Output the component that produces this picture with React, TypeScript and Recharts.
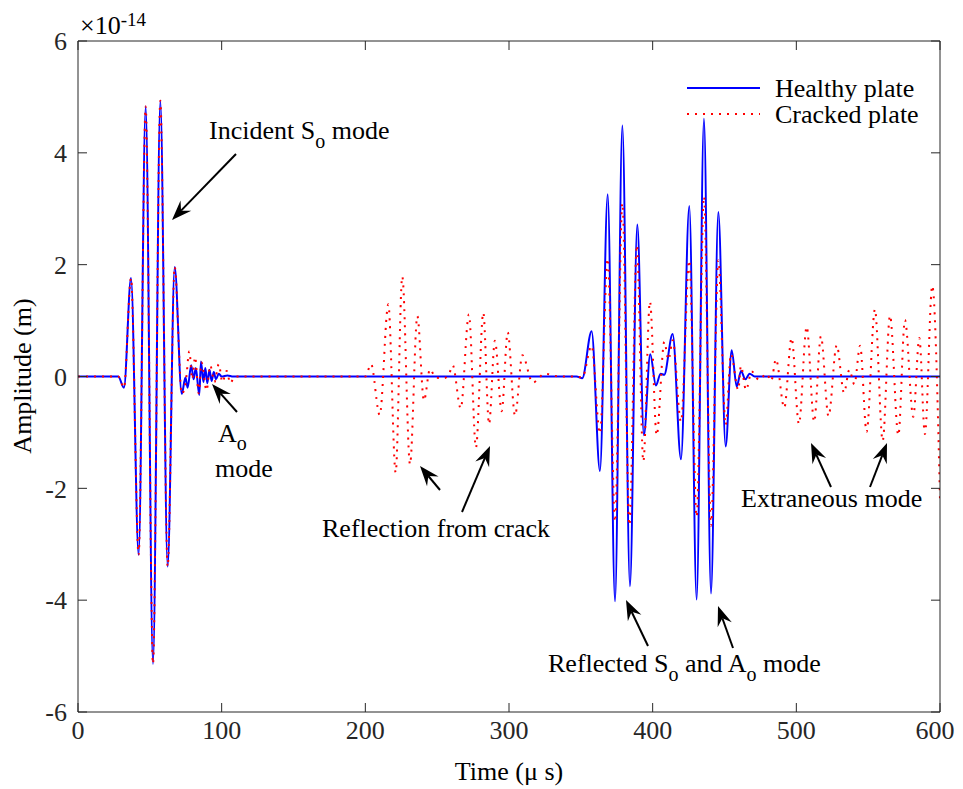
import React from 'react';
import { LineChart, Line, XAxis, YAxis } from 'recharts';

// Time (µs) and amplitude (×10^-14 m)
const healthyTime = [
  0, 28, 32, 36.9, 42.2, 47.1, 52.2, 57.3, 62.4, 67.3,
  72.2, 74.8, 76.3, 78.8, 80.5, 82, 84.4, 85.6, 87.3, 88.6,
  90, 91.5, 93, 94.5, 96, 98, 100, 104, 108, 347,
  351, 357.5, 363.3, 368.7, 373.8, 378.9, 384.2, 389.3, 393.9, 398.3,
  402.3, 405.5, 408, 413.9, 419.7, 425.5, 430.6, 435.7, 440.6, 445.7,
  450.8, 455, 458.5, 461.5, 464.5, 467.5, 471, 600,
];
const healthyAmp = [
  0, 0, -0.2, 1.76, -3.19, 4.83, -5.14, 4.93, -3.4, 1.96,
  -0.31, -0.02, -0.2, 0.2, -0.05, 0.15, -0.33, 0.27, -0.1, 0.15,
  -0.12, 0.12, -0.08, 0.08, -0.05, 0.05, 0, 0.02, 0, 0,
  -0.03, 0.81, -1.69, 3.26, -4.02, 4.49, -3.75, 2.72, -1.05, 0.4,
  -0.16, 0.05, 0.03, 0.76, -1.48, 3.05, -3.99, 4.61, -3.88, 2.94,
  -1.25, 0.47, -0.18, 0.1, -0.05, 0.05, 0, 0,
];
const crackedTime = [
  0, 28, 32, 36.9, 42.2, 47.1, 52.2, 57.3, 62.4, 67.3,
  72.2, 75, 77.5, 79.5, 81.5, 84, 86, 89.5, 92, 95,
  98, 100.5, 103.5, 106, 109, 115, 200, 204, 210, 216,
  221.1, 225.7, 231.1, 236.2, 240.8, 245, 249, 255, 258.5, 260.8,
  266.4, 272.1, 277, 282.1, 286.1, 290.2, 294.9, 299.1, 304.2, 309.3,
  316.5, 325, 335, 347, 351, 357.5, 363.3, 368.7, 373.8, 378.9,
  383.8, 389, 393.5, 398.1, 402.8, 408.1, 411, 414, 419.7, 425.5,
  430.6, 435.7, 440.6, 445.7, 450.8, 454.5, 459.6, 461.4, 465, 468.9,
  474, 479.3, 482.5, 485.8, 491.6, 496.7, 501.8, 507.2, 512.4, 517.1,
  522.4, 528.1, 533.2, 536.9, 540.4, 544.4, 548.9, 554.7, 560.1, 565.2,
  571, 575.6, 581.4, 585.6, 589.5, 594.6, 600,
];
const crackedAmp = [
  0, 0, -0.2, 1.76, -3.19, 4.83, -5.14, 4.93, -3.4, 1.96,
  -0.31, -0.1, 0.45, -0.05, 0.35, -0.3, 0.25, -0.25, 0.2, -0.1,
  0.22, -0.1, 0.1, -0.12, 0, 0, 0, 0.22, -0.69, 1.29,
  -1.72, 1.79, -1.57, 1.08, -0.43, 0.13, -0.02, -0.03, 0.06, 0.2,
  -0.57, 1.11, -1.27, 1.14, -0.85, 0.64, -0.62, 0.79, -0.7, 0.38,
  -0.11, 0.05, 0, 0, -0.02, 0.55, -1.02, 2.11, -2.6, 3.1,
  -2.66, 2.35, -1.52, 1.34, -1.05, 0.62, 0.3, 0.65, -0.81, 2.08,
  -2.51, 3.22, -2.67, 2.08, -0.87, 0.4, -0.24, 0.19, -0.24, 0.09,
  -0.06, 0.05, -0.08, 0.31, -0.56, 0.69, -0.85, 0.89, -0.81, 0.72,
  -0.71, 0.56, -0.29, 0.12, -0.14, 0.55, -0.99, 1.2, -1.15, 1.09,
  -1.05, 1.01, -0.72, 0.69, -1.03, 1.62, -2.2,
];
const xTicks = [0, 100, 200, 300, 400, 500, 600];
const yTicks = [-6, -4, -2, 0, 2, 4, 6];
const seriesNames = ['Healthy plate', 'Cracked plate'];

const healthyData = healthyTime.map((t, i) => ({ t, v: healthyAmp[i] }));
const crackedData = crackedTime.map((t, i) => ({ t, v: crackedAmp[i] }));

const FONT = '"Liberation Serif", "Times New Roman", serif';
const AX = '#262626';
const FS = 26;
const SUB = 20;
const W = 947;
const H = 781;

function Arrow({ x1, y1, x2, y2 }: { x1: number; y1: number; x2: number; y2: number }) {
  const dx = x2 - x1;
  const dy = y2 - y1;
  const len = Math.hypot(dx, dy);
  const ux = dx / len;
  const uy = dy / len;
  const hl = 20;
  const hw = 7.5;
  const notch = 13;
  const bx = x2 - ux * hl;
  const by = y2 - uy * hl;
  const nx = x2 - ux * notch;
  const ny = y2 - uy * notch;
  const px = -uy;
  const py = ux;
  return (
    <g>
      <line x1={x1} y1={y1} x2={nx} y2={ny} stroke="#000" strokeWidth={2} />
      <polygon
        points={`${x2},${y2} ${bx + px * hw},${by + py * hw} ${nx},${ny} ${bx - px * hw},${by - py * hw}`}
        fill="#000"
      />
    </g>
  );
}

function BottomTick(props: any) {
  const { x, y, payload } = props;
  // keep the last label inside the drawing surface
  const cx = Math.min(x, W - 20);
  return (
    <text
      x={cx}
      y={y}
      dy="0.71em"
      textAnchor="middle"
      fill={AX}
      fontSize={FS}
      fontFamily={FONT}
    >
      {payload.value}
    </text>
  );
}

const txt = { fontFamily: FONT, fontSize: FS, fill: '#000' } as const;

export default function App() {
  const tickStyle = { fill: AX, fontSize: FS, fontFamily: FONT };
  return (
    <div style={{ position: 'relative', width: W, height: H }}>
      <LineChart width={W} height={H} margin={{ top: 32, right: 14, bottom: 27, left: 20 }}>
        <XAxis
          xAxisId="b"
          dataKey="t"
          type="number"
          domain={[0, 600]}
          ticks={xTicks}
          orientation="bottom"
          height={50}
          tickSize={-9}
          tickMargin={18}
          stroke={AX}
          tick={<BottomTick />}
          allowDataOverflow
        />
        <XAxis
          xAxisId="t"
          dataKey="t"
          type="number"
          domain={[0, 600]}
          ticks={xTicks}
          orientation="top"
          height={1}
          tickSize={-9}
          tickFormatter={() => ''}
          stroke={AX}
          allowDataOverflow
        />
        <YAxis
          yAxisId="l"
          type="number"
          domain={[-6, 6]}
          ticks={yTicks}
          width={50}
          tickSize={-9}
          tickMargin={20}
          stroke={AX}
          tick={tickStyle}
          allowDataOverflow
        />
        <YAxis
          yAxisId="r"
          orientation="right"
          type="number"
          domain={[-6, 6]}
          ticks={yTicks}
          width={1}
          tickSize={-9}
          tickFormatter={() => ''}
          stroke={AX}
          allowDataOverflow
        />
        <Line
          xAxisId="b"
          yAxisId="l"
          data={healthyData}
          dataKey="v"
          name={seriesNames[0]}
          type="monotone"
          stroke="#0000ff"
          strokeWidth={2}
          dot={false}
          isAnimationActive={false}
        />
        <Line
          xAxisId="b"
          yAxisId="l"
          data={crackedData}
          dataKey="v"
          name={seriesNames[1]}
          type="monotone"
          stroke="#ff0000"
          strokeWidth={2}
          strokeDasharray="2 6"
          dot={false}
          isAnimationActive={false}
        />
      </LineChart>
      <svg
        width={W}
        height={H}
        style={{ position: 'absolute', left: 0, top: 0, pointerEvents: 'none' }}
      >
        {/* legend */}
        <line x1={679} y1={80} x2={752} y2={80} stroke="#0000ff" strokeWidth={2} />
        <text x={767} y={80} dominantBaseline="central" style={txt}>{seriesNames[0]}</text>
        <line x1={679} y1={106} x2={752} y2={106} stroke="#ff0000" strokeWidth={2} strokeDasharray="2 6" />
        <text x={767} y={106} dominantBaseline="central" style={txt}>{seriesNames[1]}</text>

        <text x={72} y={26} style={txt}>
          ×10<tspan dy={-8} fontSize={19}>-14</tspan>
        </text>
        <text
          x={14}
          y={368}
          textAnchor="middle"
          dominantBaseline="central"
          transform="rotate(-90 14 368)"
          style={txt}
        >
          Amplitude (m)
        </text>
        <text x={501} y={772} textAnchor="middle" style={txt}>
          Time (μ s)
        </text>

        <text x={201} y={131} style={txt}>
          Incident S<tspan dy={9} fontSize={SUB}>o</tspan>
          <tspan dy={-9}> mode</tspan>
        </text>
        <Arrow x1={228} y1={146} x2={164} y2={212} />

        <text x={210} y={434} style={txt}>
          A<tspan dy={8} fontSize={SUB}>o</tspan>
        </text>
        <text x={207} y={469} style={txt}>mode</text>
        <Arrow x1={229} y1={404} x2={204} y2={376} />

        <text x={314} y={529} style={txt}>Reflection from crack</text>
        <Arrow x1={432} y1={482} x2={412} y2={458} />
        <Arrow x1={454} y1={504} x2={482} y2={438} />

        <text x={540} y={664} style={txt}>
          Reflected S<tspan dy={9} fontSize={SUB}>o</tspan>
          <tspan dy={-9}> and A</tspan>
          <tspan dy={9} fontSize={SUB}>o</tspan>
          <tspan dy={-9}> mode</tspan>
        </text>
        <Arrow x1={640} y1={638} x2={618} y2={592} />
        <Arrow x1={725} y1={640} x2={710} y2={598} />

        <text x={733} y={499} style={txt}>Extraneous mode</text>
        <Arrow x1={823} y1={479} x2={803} y2={435} />
        <Arrow x1={862} y1={479} x2={879} y2={435} />
      </svg>
    </div>
  );
}
